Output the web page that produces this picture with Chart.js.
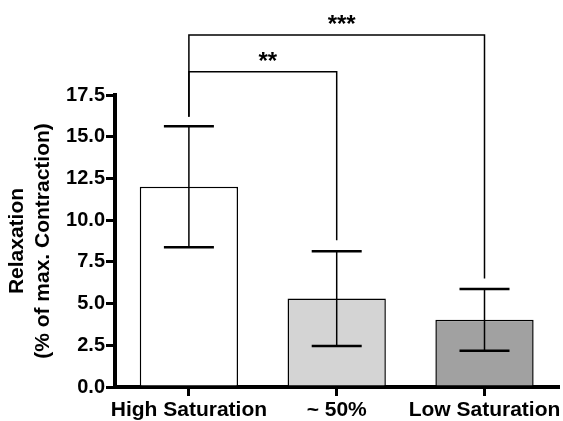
<!DOCTYPE html>
<html>
<head>
<meta charset="utf-8">
<script src="https://cdn.jsdelivr.net/npm/chart.js@4.4.1/dist/chart.umd.min.js"></script>
<style>
    body { margin: 0; background: #ffffff; }
</style>
</head>
<body>
<canvas id="relaxChart" width="563" height="421"></canvas>
<script>
// Data
const groups = ['High Saturation', '~ 50%', 'Low Saturation'];
const means = [12.0, 5.3, 4.03];
const sem = [3.62, 2.84, 1.85];
const barColors = ['#ffffff', '#d4d4d4', '#a1a1a1'];
const yTicks = [0, 2.5, 5, 7.5, 10, 12.5, 15, 17.5];

// Significance brackets: from group, to group, bracket level, leg ends, label
const bracketFrom = [0, 0];
const bracketTo = [1, 2];
const bracketLevel = [18.9, 21.1];
const legFromEnd = [16.2, 16.2];
const legToEnd = [8.8, 6.5];
const bracketLabel = ['**', '***'];

const fontFamily = "'Liberation Sans', Arial, sans-serif";

// Error bars (mean +/- SEM) drawn with the chart's own scales
const errorBars = {
    id: 'errorBars',
    afterDatasetsDraw(chart) {
        const ctx = chart.ctx;
        const y = chart.scales.y;
        const meta = chart.getDatasetMeta(0);
        ctx.save();
        ctx.strokeStyle = '#000000';
        means.forEach((m, i) => {
            const x = meta.data[i].x;
            const top = y.getPixelForValue(m + sem[i]);
            const bottom = y.getPixelForValue(m - sem[i]);
            ctx.lineWidth = 1.5;
            ctx.beginPath();
            ctx.moveTo(x, top);
            ctx.lineTo(x, bottom);
            ctx.stroke();
            ctx.lineWidth = 2.5;
            ctx.beginPath();
            ctx.moveTo(x - 25, top);
            ctx.lineTo(x + 25, top);
            ctx.moveTo(x - 25, bottom);
            ctx.lineTo(x + 25, bottom);
            ctx.stroke();
        });
        ctx.restore();
    }
};

// Brackets with stars above the plot area
const brackets = {
    id: 'brackets',
    afterDraw(chart) {
        const ctx = chart.ctx;
        const y = chart.scales.y;
        const meta = chart.getDatasetMeta(0);
        ctx.save();
        ctx.strokeStyle = '#000000';
        ctx.fillStyle = '#000000';
        ctx.lineWidth = 1.5;
        ctx.font = 'bold 24px ' + fontFamily;
        ctx.textAlign = 'center';
        ctx.textBaseline = 'alphabetic';
        bracketLevel.forEach((lvl, i) => {
            const x1 = meta.data[bracketFrom[i]].x;
            const x2 = meta.data[bracketTo[i]].x;
            const yl = y.getPixelForValue(lvl);
            ctx.beginPath();
            ctx.moveTo(x1, y.getPixelForValue(legFromEnd[i]));
            ctx.lineTo(x1, yl);
            ctx.lineTo(x2, yl);
            ctx.lineTo(x2, y.getPixelForValue(legToEnd[i]));
            ctx.stroke();
            ctx.fillText(bracketLabel[i], (x1 + x2) / 2 + 5, yl - 3);
        });
        ctx.restore();
    }
};

const config = {
    type: 'bar',
    data: {
        labels: groups,
        datasets: [{
            data: means,
            backgroundColor: barColors,
            borderColor: '#000000',
            borderWidth: 1.5,
            barPercentage: 0.665,
            categoryPercentage: 1.0
        }]
    },
    options: {
        responsive: false,
        animation: false,
        layout: {
            padding: { top: 95, right: 4, left: 0, bottom: 0 }
        },
        plugins: {
            legend: { display: false },
            tooltip: { enabled: false }
        },
        scales: {
            x: {
                grid: {
                    display: true,
                    drawOnChartArea: false,
                    offset: false,
                    color: '#000000',
                    lineWidth: 3,
                    tickLength: 9
                },
                border: { display: true, color: '#000000', width: 4 },
                ticks: {
                    color: '#000000',
                    padding: 2,
                    autoSkip: false,
                    maxRotation: 0,
                    font: { family: fontFamily, size: 21, weight: 'bold' }
                },
                afterFit(scale) { scale.height = 34; }
            },
            y: {
                min: 0,
                max: 17.5,
                afterBuildTicks(scale) {
                    scale.ticks = yTicks.map(v => ({ value: v }));
                },
                grid: {
                    display: true,
                    drawOnChartArea: false,
                    color: '#000000',
                    lineWidth: 3,
                    tickLength: 9
                },
                border: { display: true, color: '#000000', width: 4 },
                ticks: {
                    color: '#000000',
                    padding: 1,
                    font: { family: fontFamily, size: 20, weight: 'bold' },
                    callback: (v) => Number(v).toFixed(1)
                },
                title: {
                    display: true,
                    text: ['Relaxation', '(% of max. Contraction)'],
                    color: '#000000',
                    padding: { top: 5, bottom: 0 },
                    font: { family: fontFamily, size: 21, weight: 'bold', lineHeight: 1.2 }
                },
                afterFit(scale) { scale.width = 115; }
            }
        }
    },
    plugins: [errorBars, brackets]
};

// Create the chart
new Chart(document.getElementById('relaxChart').getContext('2d'), config);
</script>
</body>
</html>
